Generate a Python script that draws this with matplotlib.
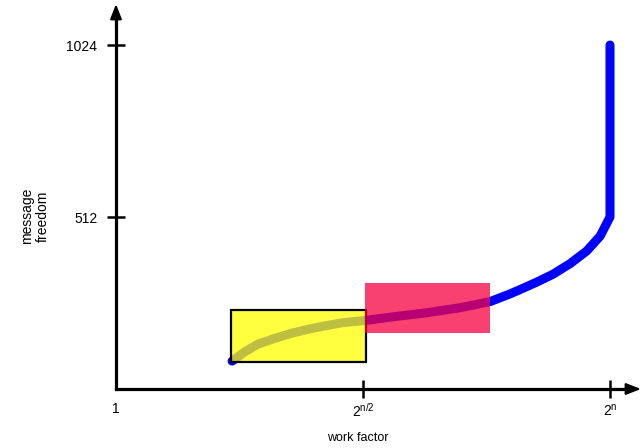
import matplotlib
matplotlib.use("Agg")
import matplotlib.pyplot as plt
from matplotlib.patches import Rectangle

plt.rcParams['font.family'] = ['Liberation Sans', 'DejaVu Sans']
plt.rcParams['mathtext.fontset'] = 'custom'
plt.rcParams['mathtext.rm'] = 'Liberation Sans'
plt.rcParams['mathtext.it'] = 'Liberation Sans'
plt.rcParams['mathtext.default'] = 'regular'

# ---- data (x in units of n/2 bits of work: 0 -> 1, 1 -> 2^(n/2), 2 -> 2^n) ----
curve_x = [0.470, 0.522, 0.576, 0.644, 0.711, 0.779, 0.846, 0.914, 1.008,
           1.123, 1.258, 1.393, 1.514, 1.595, 1.636, 1.703, 1.770, 1.838,
           1.906, 1.960, 2.0, 2.0]
curve_y = [83, 111, 134, 151, 166, 178, 188, 197, 204,
           215, 227, 242, 260, 283, 296, 318, 342, 373,
           411, 455, 512, 1024]

x_ticks = [0, 1, 2]
x_tick_labels = ['1', '$2^{n/2}$', '$2^{n}$']
y_ticks = [512, 1024]
y_tick_labels = ['512', '1024']

yellow_box_x = [0.466, 1.011]
yellow_box_y = [81, 235]
pink_box_x = [1.008, 1.514]
pink_box_y = [166, 316]

x_label = 'work factor'
y_label = 'message\nfreedom'

# ---- figure ----
fig = plt.figure(figsize=(6.44, 4.48), dpi=100)
ax = fig.add_axes([0, 0, 1, 1])
ax.set_xlim(-116 / 247, 528 / 247)
ax.set_ylim(-59 * 512 / 172, 389 * 512 / 172)

ax.plot(curve_x, curve_y, color='#0000ff', lw=6.5,
        solid_capstyle='round', solid_joinstyle='round', zorder=2)

ax.add_patch(Rectangle((yellow_box_x[0], yellow_box_y[0]),
                       yellow_box_x[1] - yellow_box_x[0],
                       yellow_box_y[1] - yellow_box_y[0],
                       facecolor=(1, 1, 0, 0.75), edgecolor='black',
                       lw=1.6, zorder=3))
ax.add_patch(Rectangle((pink_box_x[0], pink_box_y[0]),
                       pink_box_x[1] - pink_box_x[0],
                       pink_box_y[1] - pink_box_y[0],
                       facecolor=(0.965, 0.0, 0.26, 0.75), edgecolor='none',
                       zorder=3))

# axes as arrows
for s in ['top', 'right']:
    ax.spines[s].set_visible(False)
ax.spines['left'].set_position(('data', 0))
ax.spines['bottom'].set_position(('data', 0))
ax.spines['left'].set_linewidth(2.3)
ax.spines['bottom'].set_linewidth(2.3)
x_base = (626 - 116) / 247
x_tip = (641 - 116) / 247
y_base = (389 - 18) * 512 / 172
y_tip = (389 - 4) * 512 / 172
ax.spines['left'].set_bounds(0, y_base)
ax.spines['bottom'].set_bounds(0, x_base)
arrow = dict(arrowstyle='-|>,head_length=0.9,head_width=0.35', color='black',
             lw=1.5, shrinkA=0, shrinkB=0)
ax.annotate('', xy=(0, y_tip), xytext=(0, y_base - 30), arrowprops=arrow)
ax.annotate('', xy=(x_tip, 0), xytext=(x_base - 0.05, 0), arrowprops=arrow)

ax.set_xticks(x_ticks)
ax.set_xticklabels(x_tick_labels)
ax.set_yticks(y_ticks)
ax.set_yticklabels(y_tick_labels)
ax.tick_params(axis='both', direction='inout', length=13, width=1.8,
               labelsize=10, colors='black')
ax.tick_params(axis='x', pad=3)
ax.tick_params(axis='y', pad=7)
ax.xaxis.get_major_ticks()[0].tick1line.set_visible(False)

ax.text((358 - 116) / 247, -(438 - 389) * 512 / 172, x_label,
        ha='center', va='center', fontsize=9)
ax.text((35 - 116) / 247, (389 - 216) * 512 / 172, y_label,
        ha='center', va='center', rotation=90, fontsize=10,
        multialignment='center', linespacing=1.15)

fig.savefig('out.png', dpi=100)
